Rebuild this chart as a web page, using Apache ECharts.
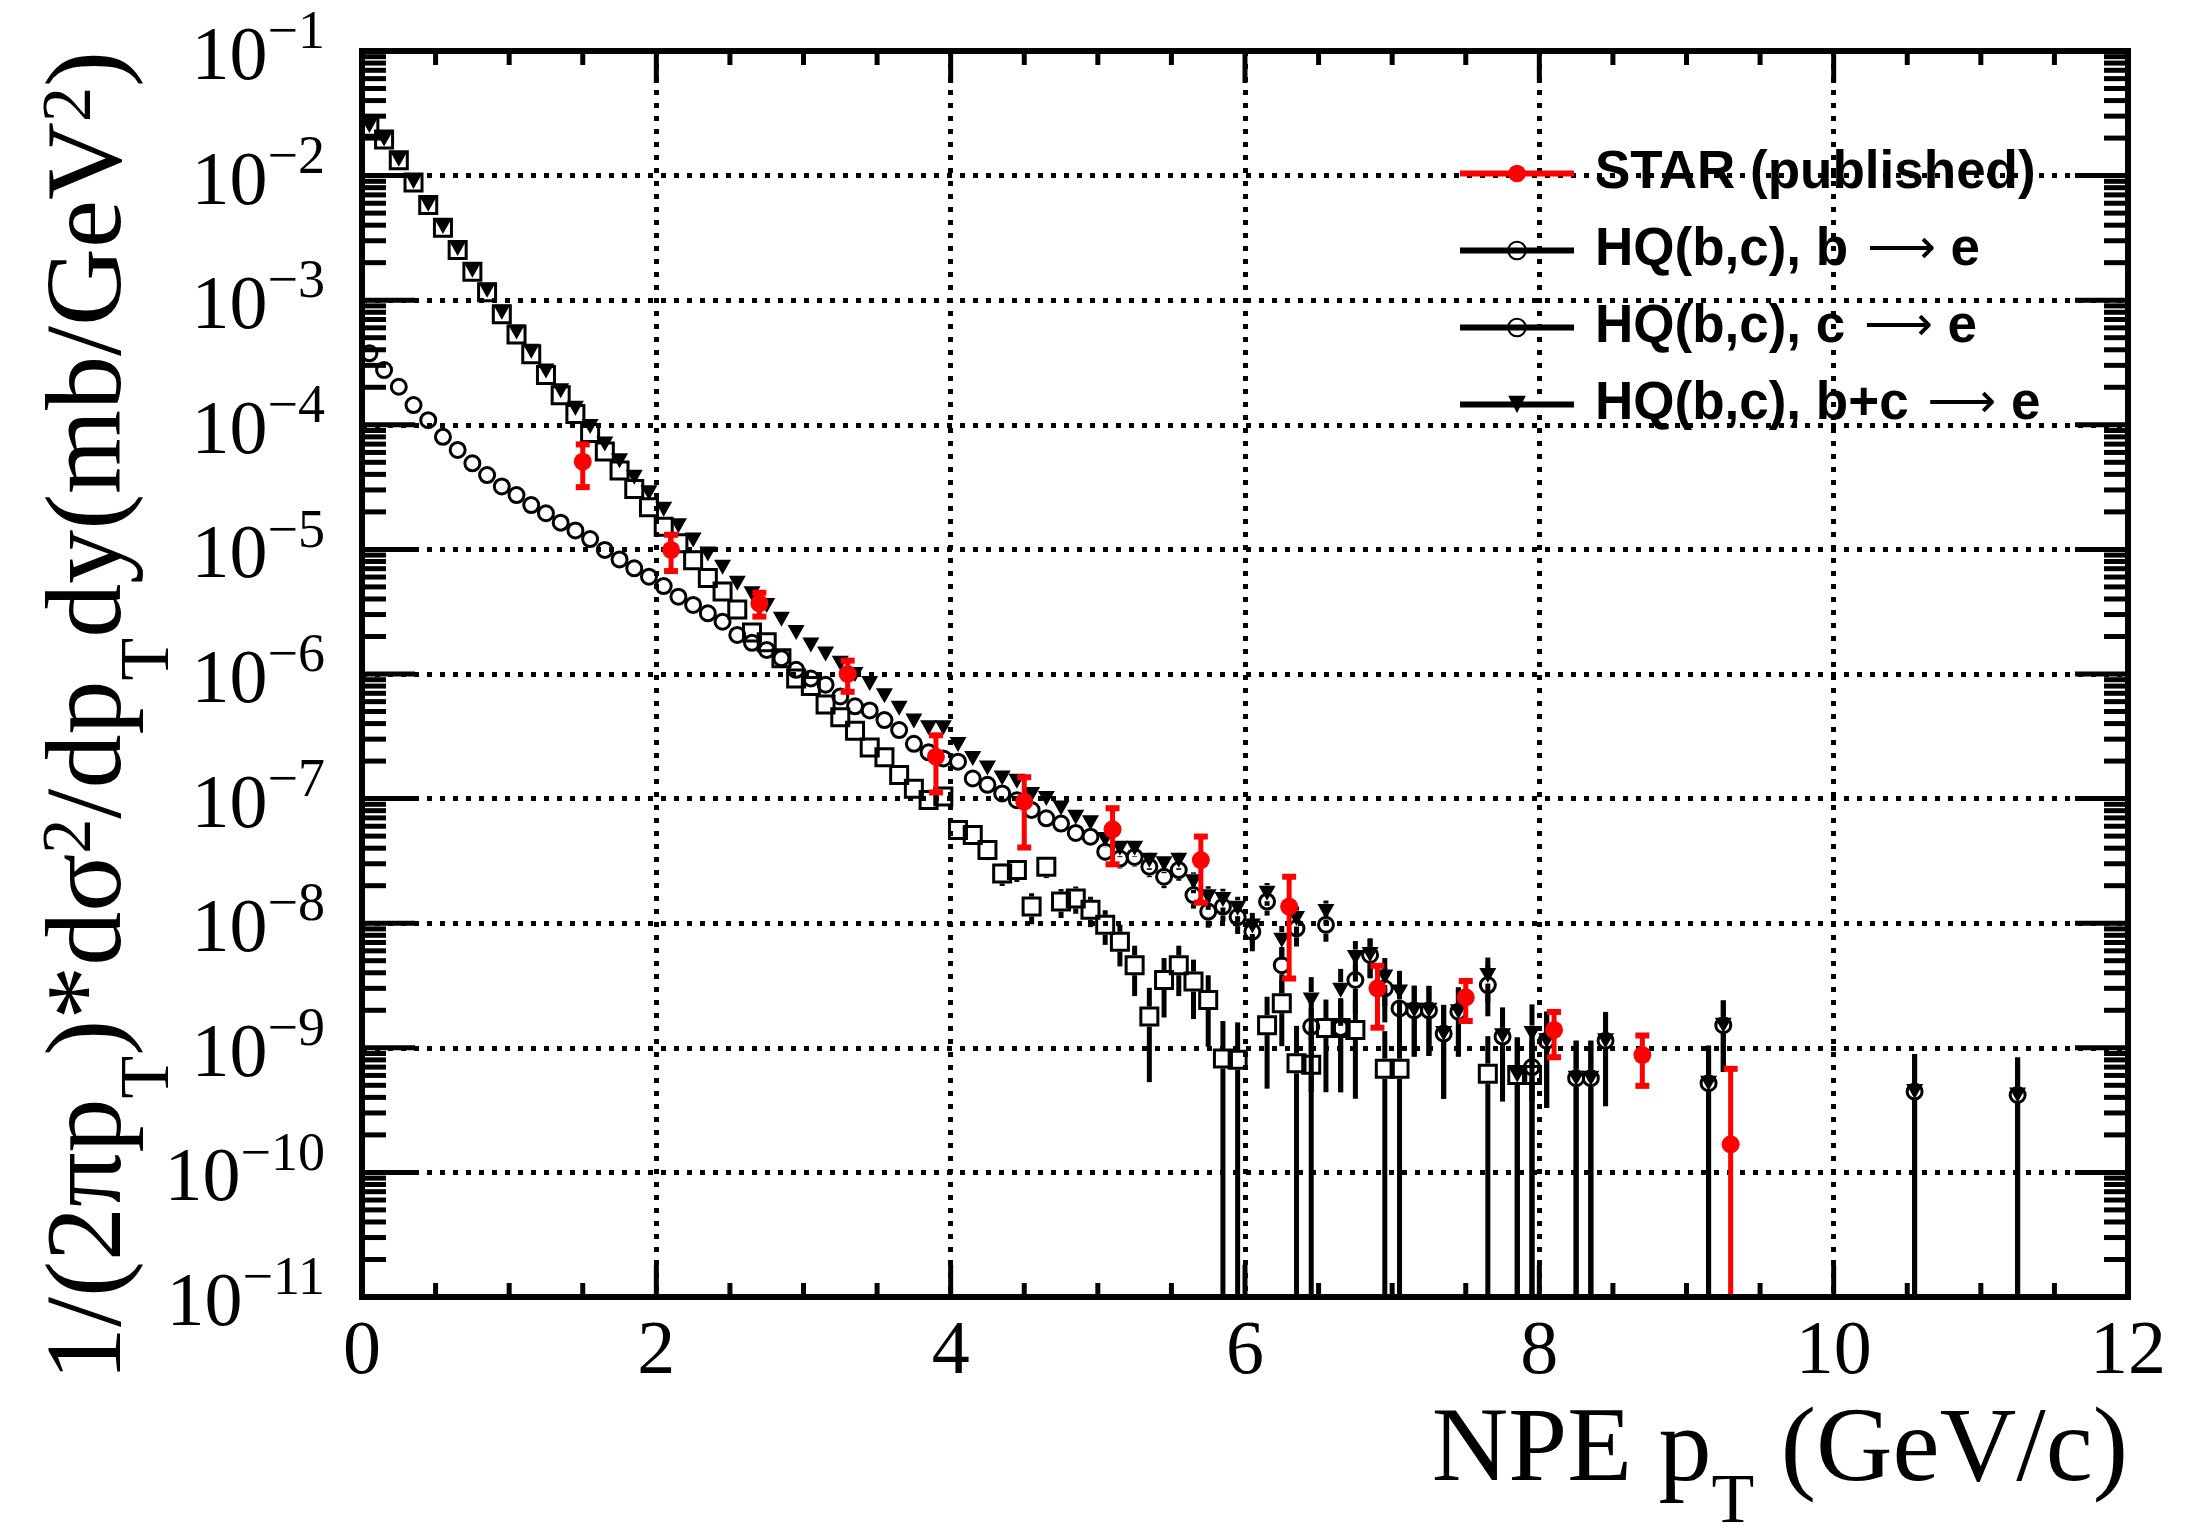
<!DOCTYPE html>
<html><head><meta charset="utf-8">
<script src="https://cdn.jsdelivr.net/npm/echarts@6/dist/echarts.min.js"></script>
<style>html,body{margin:0;padding:0;background:#fff}#c{width:2193px;height:1533px}</style>
</head><body><div id="c"></div>
<script>
// ---------------- data ----------------
const starX = [1.5,2.1,2.7,3.3,3.9,4.5,5.1,5.7,6.3,6.9,7.5,8.1,8.7,9.3];
const starY = [5.06e-5,9.9e-6,3.69e-6,1.0e-6,2.17e-7,9.45e-8,5.67e-8,3.21e-8,1.36e-8,3.0e-9,2.54e-9,1.39e-9,8.75e-10,1.68e-10];
const starErr = [1.9e-5,3.2e-6,8.0e-7,2.8e-7,1.05e-7,5.4e-8,2.7e-8,1.75e-8,1.0e-8,1.55e-9,9.0e-10,5.5e-10,3.8e-10,5.1e-10];

// HQ(b,c), b -> e  (open circles)
const bX = [0.05,0.15,0.25,0.35,0.45,0.55,0.65,0.75,0.85,0.95,
  1.05,1.15,1.25,1.35,1.45,1.55,1.65,1.75,1.85,1.95,
  2.05,2.15,2.25,2.35,2.45,2.55,2.65,2.75,2.85,2.95,
  3.05,3.15,3.25,3.35,3.45,3.55,3.65,3.75,3.85,3.95,
  4.05,4.15,4.25,4.35,4.45,4.55,4.65,4.75,4.85,4.95,
  5.05,5.15,5.25,5.35,5.45,5.55,5.65,5.75,5.85,5.95,
  6.05,6.15,6.25,6.35,6.45,6.55,6.65,6.75,6.85,6.95,
  7.05,7.15,7.25,7.35,7.45,
  7.65,7.75,7.95,8.05,8.25,8.35,8.45,9.15,9.25,10.55,11.25];
const bY = [3.75e-4,2.75e-4,2.02e-4,1.44e-4,1.09e-4,8.0e-5,6.28e-5,4.91e-5,3.95e-5,3.2e-5,
  2.73e-5,2.27e-5,1.95e-5,1.64e-5,1.42e-5,1.21e-5,9.9e-6,8.3e-6,7.05e-6,6.04e-6,
  5.08e-6,4.17e-6,3.58e-6,3.07e-6,2.63e-6,2.06e-6,1.78e-6,1.56e-6,1.34e-6,1.08e-6,
  9.2e-7,8.2e-7,6.6e-7,5.5e-7,5.1e-7,4.27e-7,3.55e-7,2.75e-7,2.35e-7,2.1e-7,
  1.98e-7,1.45e-7,1.29e-7,1.1e-7,9.7e-8,8.1e-8,6.95e-8,6.3e-8,5.3e-8,4.95e-8,
  3.75e-8,3.3e-8,3.4e-8,2.84e-8,2.36e-8,2.67e-8,1.68e-8,1.24e-8,1.36e-8,1.12e-8,
  8.55e-9,1.49e-8,4.6e-9,9.1e-9,1.48e-9,9.7e-9,1.44e-9,3.5e-9,5.56e-9,3.0e-9,
  2.07e-9,2.0e-9,2.0e-9,1.3e-9,1.95e-9,
  3.19e-9,1.23e-9,7.0e-10,1.14e-9,5.7e-10,5.7e-10,1.14e-9,5.2e-10,1.52e-9,4.45e-10,4.18e-10];
const bErr = [0,0,0,0,0,0,0,0,0,0, 0,0,0,0,0,0,0,0,0,0, 0,0,0,0,0,0,0,0,0,0, 0,0,0,0,0,0,0,0,0,0,
  1.5e-8,1.2e-8,1.1e-8,1.05e-8,1.0e-8,8.9e-9,8.0e-9,7.5e-9,7.0e-9,6.9e-9,
  5.9e-9,5.5e-9,5.5e-9,5.0e-9,4.5e-9,4.8e-9,3.7e-9,3.2e-9,3.3e-9,3.0e-9,
  2.6e-9,3.4e-9,1.85e-9,2.6e-9,1.04e-9,2.6e-9,1.0e-9,1.6e-9,1.95e-9,1.4e-9,
  1.18e-9,1.15e-9,1.14e-9,9.1e-10,1.1e-9,
  1.4e-9,8.6e-10,7.0e-10,8.1e-10,5.7e-10,5.7e-10,8.0e-10,5.2e-10,8.8e-10,4.45e-10,4.18e-10];

// HQ(b,c), c -> e  (drawn as open squares)
const cX = [0.05,0.15,0.25,0.35,0.45,0.55,0.65,0.75,0.85,0.95,
  1.05,1.15,1.25,1.35,1.45,1.55,1.65,1.75,1.85,1.95,
  2.05,2.15,2.25,2.35,2.45,2.55,2.65,2.75,2.85,2.95,
  3.05,3.15,3.25,3.35,3.45,3.55,3.65,3.75,3.85,3.95,
  4.05,4.15,4.25,4.35,4.45,4.55,4.65,4.75,4.85,4.95,
  5.05,5.15,5.25,5.35,5.45,5.55,5.65,5.75,5.85,5.95,
  6.15,6.25,6.35,6.45,6.55,6.65,6.75,6.95,7.05,7.65,7.85,7.95];
const cY = [2.47e-2,1.95e-2,1.33e-2,8.8e-3,5.8e-3,3.82e-3,2.53e-3,1.69e-3,1.16e-3,7.7e-4,
  5.3e-4,3.68e-4,2.51e-4,1.73e-4,1.22e-4,8.6e-5,6.1e-5,4.3e-5,3.05e-5,2.18e-5,
  1.52e-5,1.12e-5,8.2e-6,5.9e-6,4.6e-6,3.3e-6,2.15e-6,1.8e-6,1.34e-6,9.2e-7,
  8.0e-7,5.7e-7,4.5e-7,3.5e-7,2.57e-7,2.15e-7,1.55e-7,1.2e-7,9.75e-8,1.04e-7,
  5.6e-8,5.1e-8,3.87e-8,2.51e-8,2.67e-8,1.36e-8,2.84e-8,1.49e-8,1.58e-8,1.28e-8,
  9.7e-9,7.1e-9,4.6e-9,1.78e-9,3.5e-9,4.6e-9,3.4e-9,2.42e-9,8.2e-10,8.0e-10,
  1.52e-9,2.28e-9,7.5e-10,7.3e-10,1.44e-9,1.44e-9,1.39e-9,6.8e-10,6.8e-10,6.2e-10,6.05e-10,6.05e-10];
const cErr = [0,0,0,0,0,0,0,0,0,0, 0,0,0,0,0,0,0,0,0,0, 0,0,0,0,0,0,0,0,0,0,
  3.5e-8,2.8e-8,2.5e-8,2.1e-8,1.9e-8,1.7e-8,1.4e-8,1.25e-8,1.1e-8,1.1e-8,
  8.1e-9,7.6e-9,6.6e-9,5.2e-9,5.3e-9,3.8e-9,5.4e-9,3.9e-9,3.9e-9,3.5e-9,
  3.0e-9,2.6e-9,2.0e-9,1.25e-9,1.75e-9,2.0e-9,1.7e-9,1.4e-9,8.2e-10,8.0e-10,
  1.05e-9,1.25e-9,7.5e-10,7.3e-10,1.0e-9,1.0e-9,1.0e-9,6.8e-10,6.8e-10,6.2e-10,6.05e-10,6.05e-10];

// HQ(b,c), b+c -> e  (filled down-triangles)
const bcX = [0.05,0.15,0.25,0.35,0.45,0.55,0.65,0.75,0.85,0.95,
  1.05,1.15,1.25,1.35,1.45,1.55,1.65,1.75,1.85,1.95,
  2.05,2.15,2.25,2.35,2.45,2.55,2.65,2.75,2.85,2.95,
  3.05,3.15,3.25,3.35,3.45,3.55,3.65,3.75,3.85,3.95,
  4.05,4.15,4.25,4.35,4.45,4.55,4.65,4.75,4.85,4.95,
  5.05,5.15,5.25,5.35,5.45,5.55,5.65,5.75,5.85,5.95,
  6.05,6.15,6.25,6.35,6.45,6.55,6.65,6.75,6.85,6.95,
  7.05,7.15,7.25,7.35,7.45,
  7.65,7.75,7.85,7.95,8.05,8.25,8.35,8.45,9.15,9.25,10.55,11.25];
const bcY = [2.52e-2,1.97e-2,1.35e-2,8.95e-3,5.9e-3,3.9e-3,2.6e-3,1.74e-3,1.2e-3,8.0e-4,
  5.55e-4,3.9e-4,2.7e-4,1.88e-4,1.36e-4,9.7e-5,7.0e-5,5.15e-5,3.8e-5,2.85e-5,
  2.1e-5,1.55e-5,1.19e-5,9.2e-6,7.2e-6,5.35e-6,4.4e-6,3.55e-6,2.75e-6,2.15e-6,
  1.71e-6,1.45e-6,1.22e-6,9.9e-7,8.4e-7,6.7e-7,5.3e-7,4.2e-7,3.7e-7,3.7e-7,
  2.72e-7,2.1e-7,1.76e-7,1.46e-7,1.38e-7,1.08e-7,1.0e-7,8.4e-8,7.1e-8,6.4e-8,
  4.7e-8,4.0e-8,4.0e-8,3.2e-8,3.0e-8,3.2e-8,2.15e-8,1.63e-8,1.55e-8,1.32e-8,
  9.5e-9,1.74e-8,7.3e-9,1.09e-8,2.42e-9,1.24e-8,2.9e-9,5.3e-9,5.6e-9,3.7e-9,
  2.8e-9,2.0e-9,2.0e-9,1.3e-9,1.95e-9,
  3.8e-9,1.25e-9,6.05e-10,1.3e-9,1.14e-9,5.7e-10,5.7e-10,1.14e-9,5.2e-10,1.52e-9,4.45e-10,4.18e-10];
const bcErr = [0,0,0,0,0,0,0,0,0,0, 0,0,0,0,0,0,0,0,0,0, 0,0,0,0,0,0,0,0,0,0, 0,0,0,0,0,0,0,0,0,0,
  1.7e-8,1.4e-8,1.3e-8,1.2e-8,1.15e-8,9.8e-9,9.8e-9,8.7e-9,8.2e-9,7.7e-9,
  6.6e-9,6.1e-9,5.9e-9,5.2e-9,4.8e-9,5.2e-9,4.1e-9,3.5e-9,3.4e-9,3.1e-9,
  2.6e-9,3.6e-9,2.2e-9,2.7e-9,1.27e-9,2.8e-9,1.4e-9,1.9e-9,1.95e-9,1.55e-9,
  1.35e-9,1.15e-9,1.14e-9,9.1e-10,1.1e-9,
  1.5e-9,8.6e-10,6.05e-10,9.3e-10,8.1e-10,5.7e-10,5.7e-10,8.0e-10,5.2e-10,8.8e-10,4.45e-10,4.18e-10];

// axes / ticks
const X_MIN = 0, X_MAX = 12, X_STEP = 2;
const Y_MIN = 1e-11, Y_MAX = 0.09999;   // top of the frame is 1e-1
const xMajorTicks = [0,2,4,6,8,10,12];
const xMinorTicks = [0.5,1,1.5,2.5,3,3.5,4.5,5,5.5,6.5,7,7.5,8.5,9,9.5,10.5,11,11.5];
const yDecades = [-11,-10,-9,-8,-7,-6,-5,-4,-3,-2,-1];
const yMinorMantissas = [2,3,4,5,6,7,8,9];

const names = ['STAR (published)', 'HQ(b,c), b \u2192 e', 'HQ(b,c), c \u2192 e', 'HQ(b,c), b+c \u2192 e'];

// ---------------- chart ----------------
const SERIF = 'Liberation Serif, Times New Roman, serif';
const chart = echarts.init(document.getElementById('c'), null, {renderer: 'canvas'});

function errRender(color, gap, capHalf, lw) {
  return function (params, api) {
    const x = api.value(0), y = api.value(1), e = api.value(2);
    if (!(e > 0)) return null;
    const cs = params.coordSys;
    const top = cs.y, bottom = cs.y + cs.height;
    const pc = api.coord([x, y]);
    let yHi = Math.max(api.coord([x, y + e])[1], top);
    let yLo = (y - e) > Y_MIN ? api.coord([x, y - e])[1] : bottom;
    yLo = Math.min(yLo, bottom);
    const st = {stroke: color, lineWidth: lw};
    const ch = [];
    if (pc[1] - gap > yHi) ch.push({type: 'line', shape: {x1: pc[0], y1: yHi, x2: pc[0], y2: pc[1] - gap}, style: st});
    if (pc[1] + gap < yLo) ch.push({type: 'line', shape: {x1: pc[0], y1: pc[1] + gap, x2: pc[0], y2: yLo}, style: st});
    if (capHalf) {
      ch.push({type: 'rect', shape: {x: pc[0] - capHalf, y: yHi - 3, width: capHalf * 2, height: 6}, style: {fill: color}});
      ch.push({type: 'rect', shape: {x: pc[0] - capHalf, y: yLo - 3, width: capHalf * 2, height: 6}, style: {fill: color}});
    }
    return {type: 'group', children: ch};
  };
}

function frameRender(params, api) {
  const cs = params.coordSys;
  const L = cs.x, T = cs.y, R = cs.x + cs.width, B = cs.y + cs.height;
  const ch = [];
  const st = {stroke: '#000', lineWidth: 5};
  const ln = (x1, y1, x2, y2) => ({type: 'line', shape: {x1, y1, x2, y2}, style: st});
  xMajorTicks.forEach(v => { const px = api.coord([v, Y_MIN])[0]; ch.push(ln(px, B, px, B - 32), ln(px, T, px, T + 32)); });
  xMinorTicks.forEach(v => { const px = api.coord([v, Y_MIN])[0]; ch.push(ln(px, B, px, B - 14), ln(px, T, px, T + 14)); });
  yDecades.forEach(d => {
    const py = d === -1 ? T : api.coord([X_MIN, Math.pow(10, d)])[1];
    ch.push(ln(L, py, L + 53, py), ln(R, py, R - 53, py));
    if (d < -1) yMinorMantissas.forEach(m => {
      const qy = api.coord([X_MIN, m * Math.pow(10, d)])[1];
      ch.push(ln(L, qy, L + 24, qy), ln(R, qy, R - 24, qy));
    });
  });
  ch.push({type: 'rect', shape: {x: L, y: T, width: cs.width, height: cs.height}, style: {fill: 'none', stroke: '#000', lineWidth: 6}});
  return {type: 'group', children: ch};
}

// rich-text pieces: every token is vertically centred; padding shifts it by (top-bottom)/2
const xTitleRich = {
  m: {fontFamily: SERIF, fontSize: 106, lineHeight: 106, color: '#000'},
  s: {fontFamily: SERIF, fontSize: 70, lineHeight: 70, padding: [104, 0, 0, 0], color: '#000'}
};
const yTitleRich = {
  m: {fontFamily: SERIF, fontSize: 108, lineHeight: 108, color: '#000'},
  s: {fontFamily: SERIF, fontSize: 70, lineHeight: 70, padding: [116, 0, 0, 0], color: '#000'},
  u: {fontFamily: SERIF, fontSize: 70, lineHeight: 70, padding: [0, 0, 40, 0], color: '#000'}
};

const hollow = {color: 'rgba(0,0,0,0)', borderColor: '#000', borderWidth: 3};

const option = {
  animation: false,
  backgroundColor: '#fff',
  textStyle: {fontFamily: SERIF},
  grid: {left: 362, right: 65, top: 51, bottom: 236, containLabel: false, outerBoundsMode: 'none'},
  legend: {
    orient: 'vertical', left: 1457, top: 147, padding: 0,
    itemWidth: 114, itemHeight: 22, itemGap: 24, selectedMode: false,
    textStyle: {fontFamily: 'Liberation Sans, Arial, sans-serif', fontWeight: 'bold', fontSize: 53, lineHeight: 53, color: '#000', padding: [0, 0, 0, 16],
      rich: {ar: {fontFamily: 'DejaVu Sans', fontWeight: 'normal', fontSize: 48, lineHeight: 53, color: '#000', padding: [0, 0, 0, 4]}}},
    lineStyle: {width: 6, opacity: 1},
    formatter: n => n.replace(' \u2192', ' {ar|\u27f6}'),
    data: names.map(n => ({name: n}))
  },
  xAxis: [{
    type: 'value', min: X_MIN, max: X_MAX, interval: X_STEP,
    axisLine: {show: false}, axisTick: {show: false},
    axisLabel: {fontFamily: SERIF, fontSize: 76, color: '#000', margin: 18},
    splitLine: {show: true, lineStyle: {color: '#000', width: 5, type: [5, 8]}},
    name: '{m|NPE p}{s|T}{m| (GeV/c)}', nameLocation: 'end', nameGap: 0, nameMoveOverlap: false,
    nameTextStyle: {align: 'right', verticalAlign: 'top', padding: [102, 0, 0, 0], rich: xTitleRich}
  }],
  yAxis: [{
    type: 'log', logBase: 10, min: Y_MIN, max: Y_MAX,
    axisLine: {show: false}, axisTick: {show: false},
    axisLabel: {
      margin: 37, color: '#000', showMinLabel: true, showMaxLabel: true,
      formatter: v => '{m|10}{s|\u2212' + Math.abs(Math.round(Math.log10(v))) + '}',
      rich: {
        m: {fontFamily: SERIF, fontSize: 76, lineHeight: 76, padding: [16, 0, 0, 0], color: '#000'},
        s: {fontFamily: SERIF, fontSize: 54, lineHeight: 54, padding: [0, 0, 34, 0], color: '#000'}
      }
    },
    splitLine: {show: true, lineStyle: {color: '#000', width: 5, type: [5, 8]}},
    name: '{m|1/(2\u03c0p}{s|T}{m|)*d\u03c3}{u|2}{m|/dp}{s|T}{m|dy(mb/GeV}{u|2}{m|)}',
    nameLocation: 'end', nameGap: 0, nameRotate: 90, nameMoveOverlap: false,
    nameTextStyle: {align: 'right', verticalAlign: 'bottom', padding: [0, 0, 216, 0], rich: yTitleRich}
  }],
  series: [
    {type: 'custom', name: 'errC', coordinateSystem: 'cartesian2d', z: 2, silent: true,
      renderItem: errRender('#000', 10, 0, 5), encode: {x: 0, y: 1},
      data: cX.map((x, i) => [x, cY[i], cErr[i]])},
    {type: 'custom', name: 'errB', coordinateSystem: 'cartesian2d', z: 2, silent: true,
      renderItem: errRender('#000', 9, 0, 5), encode: {x: 0, y: 1},
      data: bX.map((x, i) => [x, bY[i], bErr[i]])},
    {type: 'custom', name: 'errBC', coordinateSystem: 'cartesian2d', z: 2, silent: true,
      renderItem: errRender('#000', 8, 0, 5), encode: {x: 0, y: 1},
      data: bcX.map((x, i) => [x, bcY[i], bcErr[i]])},
    {type: 'line', name: names[2], z: 3, color: '#000', symbol: 'circle', symbolSize: 17, showAllSymbol: true,
      itemStyle: hollow, lineStyle: {color: '#000', opacity: 0},
      data: cX.map((x, i) => ({value: [x, cY[i]], symbol: 'rect'}))},
    {type: 'line', name: names[1], z: 4, color: '#000', symbol: 'circle', symbolSize: 15, showAllSymbol: true,
      itemStyle: hollow, lineStyle: {color: '#000', opacity: 0},
      data: bX.map((x, i) => [x, bY[i]])},
    {type: 'line', name: names[3], z: 5, color: '#000', symbol: 'triangle', symbolRotate: 180, symbolSize: [17, 15], showAllSymbol: true,
      itemStyle: {color: '#000'}, lineStyle: {color: '#000', opacity: 0},
      data: bcX.map((x, i) => [x, bcY[i]])},
    {type: 'custom', name: 'errStar', coordinateSystem: 'cartesian2d', z: 6, silent: true,
      renderItem: errRender('#ff0000', 0, 7, 5), encode: {x: 0, y: 1},
      data: starX.map((x, i) => [x, starY[i], starErr[i]])},
    {type: 'line', name: names[0], z: 7, color: '#ff0000', symbol: 'circle', symbolSize: 18, showAllSymbol: true,
      itemStyle: {color: '#ff0000'}, lineStyle: {color: '#ff0000', opacity: 0},
      data: starX.map((x, i) => [x, starY[i]])},
    {type: 'custom', name: 'frame', coordinateSystem: 'cartesian2d', z: 10, silent: true,
      renderItem: frameRender, encode: {x: 0, y: 1}, data: [[6, 1e-6]]}
  ]
};
chart.setOption(option);
</script></body></html>
